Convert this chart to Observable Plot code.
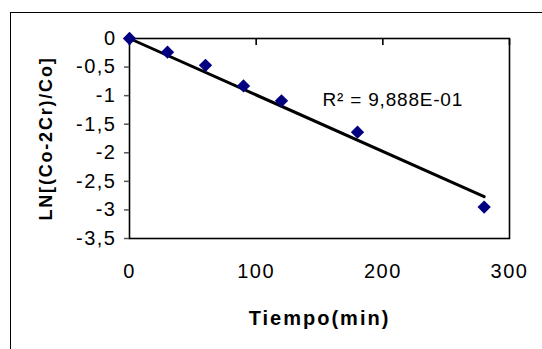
<!DOCTYPE html>
<html>
<head>
<meta charset="utf-8">
<script src="https://cdn.jsdelivr.net/npm/d3@7"></script>
<script src="https://cdn.jsdelivr.net/npm/@observablehq/plot@0.6"></script>
<style>
  html, body { margin: 0; padding: 0; background: #fff; }
  #wrap { position: relative; width: 542px; height: 349px; overflow: hidden; }
  #border { position: absolute; left: 10px; top: 12px; width: 600px; height: 400px;
            border-left: 1px solid #000; border-top: 1px solid #000; pointer-events: none; }
  svg { display: block; }
  g[aria-label="y-axis tick label"] text, g[aria-label="x-axis tick label"] text { letter-spacing: 1.5px; }
</style>
</head>
<body>
<div id="wrap"><div id="border"></div></div>
<script>
// Data
const tiempo = [0, 30, 60, 90, 120, 180, 280];
const lnRatio = [0, -0.24, -0.47, -0.83, -1.09, -1.64, -2.95];
const xTicks = [0, 100, 200, 300];
const yTicks = [0, -0.5, -1, -1.5, -2, -2.5, -3, -3.5];
const xTitle = "Tiempo(min)";
const yTitle = "LN[(Co-2Cr)/Co]";
const r2Label = "R² = 9,888E-01";

const points = tiempo.map((t, i) => ({x: t, y: lnRatio[i]}));
// linear trendline forced through the origin
const sxy = d3.sum(points, d => d.x * d.y);
const sxx = d3.sum(points, d => d.x * d.x);
const slope = sxy / sxx;
const trend = d3.extent(tiempo).map(x => ({x, y: slope * x}));

const fmt = v => String(v).replace(".", ",");
const font = "Liberation Sans, Arial, sans-serif";

const chart = Plot.plot({
  width: 542,
  height: 349,
  marginLeft: 129,
  marginRight: 33,
  marginTop: 38,
  marginBottom: 111,
  style: {fontFamily: font, fontSize: "20px", color: "#000", background: "transparent"},
  x: {domain: [0, 300]},
  y: {domain: [-3.5, 0]},
  marks: [
    Plot.frame({stroke: "#000", strokeWidth: 1.6}),
    Plot.axisY({ticks: yTicks, tickSize: 5, tickPadding: 8, tickFormat: fmt, label: null,
                stroke: "#555", strokeWidth: 1.5, fill: "#000", fontSize: 20}),
    Plot.axisX({ticks: xTicks, anchor: "bottom", tickSize: 0, tickPadding: 25, tickFormat: d => String(d),
                label: null, fill: "#000", fontSize: 20}),
    Plot.axisX({ticks: xTicks, anchor: "top", tickSize: -6, tickFormat: () => "", label: null,
                stroke: "#000", strokeWidth: 1.6}),
    Plot.line(trend, {x: "x", y: "y", stroke: "#000", strokeWidth: 3}),
    Plot.dot(points, {x: "x", y: "y", symbol: "diamond2", r: 6, fill: "#000080", stroke: "none"}),
    Plot.text([r2Label], {frameAnchor: "top-left", dx: 193, dy: 61, textAnchor: "start",
                          fontSize: 19, fill: "#000", lineAnchor: "middle"}),
    Plot.text([xTitle], {frameAnchor: "bottom", dy: 80, textAnchor: "middle", fontWeight: "bold", fontSize: 20,
                         fill: "#000", lineAnchor: "middle"}),
    Plot.text([yTitle], {frameAnchor: "left", dx: -83, rotate: -90, textAnchor: "middle", fontWeight: "bold",
                         fontSize: 18, fill: "#000", lineAnchor: "middle"})
  ]
});
const spacing = new Map([[xTitle, "2px"], [yTitle, "1.8px"], [r2Label, "0.8px"]]);
d3.select(chart).selectAll("text").each(function() {
  const s = spacing.get(this.textContent);
  if (s) this.style.letterSpacing = s;
});
document.getElementById("wrap").prepend(chart);
</script>
</body>
</html>
